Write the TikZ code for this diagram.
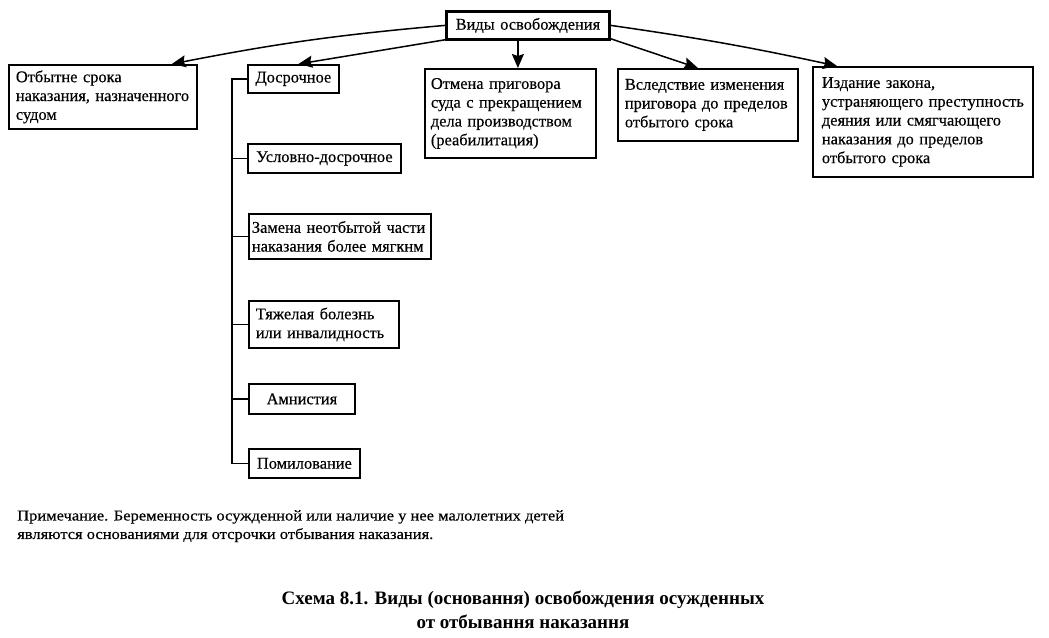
\documentclass[tikz,border=0pt]{standalone}
\usepackage{fontspec}
\setmainfont{Liberation Serif}
\newfontfamily\scanfont[FakeBold=0.35]{Liberation Serif}
\usetikzlibrary{arrows.meta,calc}
\newcommand{\bxfont}{\scanfont\fontsize{16.4}{18.8}\selectfont}
\begin{document}
\begin{tikzpicture}[x=1pt,y=1pt,
  box/.style={draw, line width=1.8pt, inner xsep=6pt, inner ysep=4pt, anchor=north west, font=\bxfont, align=left},
  arr/.style={line width=1.5pt, -{Stealth[length=14pt,width=12pt,inset=2pt]}},
  link/.style={line width=1.8pt}]
\useasboundingbox (0,0) rectangle (1049,-637);
\node[box, line width=2.8pt, inner xsep=4pt, text width=155pt, minimum height=28pt, align=center] (root) at (445,-10) {Виды освобождения};
\node[box, inner xsep=7pt, text width=174pt, minimum height=64pt] (b1) at (8,-64) {Отбытне срока\\наказания, назначенного\\судом};
\node[box, inner xsep=3pt, text width=85pt, minimum height=28pt, align=center] (dos) at (247,-64) {Досрочное};
\node[box, inner xsep=3pt, text width=147pt, minimum height=29pt, align=center] (usl) at (247,-143) {Условно-досрочное};
\node[box, inner xsep=3pt, text width=176pt, minimum height=45pt] (zam) at (248,-213) {Замена неотбытой части\\наказания более мягкнм};
\node[box, inner xsep=4pt, text width=142pt, minimum height=47pt] (tya) at (248,-300) {\hspace*{3pt}Тяжелая болезнь\\\hspace*{3pt}или инвалидность};
\node[box, inner xsep=3pt, text width=100pt, minimum height=30pt, align=center] (amn) at (248,-383) {Амнистия};
\node[box, inner xsep=3pt, text width=105pt, minimum height=29pt, align=center] (pom) at (248,-448) {Помилование};
\node[box, inner xsep=6pt, text width=159pt, minimum height=89pt] (otm) at (424,-68) {Отмена приговора\\суда с прекращением\\дела производством\\(реабилитация)};
\node[box, inner xsep=7pt, text width=166pt, minimum height=72pt] (vsl) at (617,-68) {Вследствие изменения\\приговора до пределов\\отбытого срока};
\node[box, inner xsep=9pt, text width=202pt, minimum height=110pt] (izd) at (812,-66) {Издание закона,\\устраняющего преступность\\деяния или смягчающего\\наказания до пределов\\отбытого срока};

\draw[arr] (root.west) to[bend right=3] ([xshift=-26pt]b1.north east);
\draw[arr] ([yshift=1pt]root.south west) -- ([xshift=5pt]dos.north);
\draw[arr] ([xshift=-10pt]root.south) -- ([xshift=-10pt]root.south |- otm.north);
\draw[arr] ([yshift=2pt]root.south east) -- ([xshift=-10pt]vsl.north);
\draw[arr] (root.east) to[bend left=2] ([xshift=25pt]izd.north west);

\draw[link] (dos.west) -- ++(-15,0) |- (pom.west);
\draw[link] (usl.west) -- ++(-15,0);
\draw[link] (zam.west) -- ++(-16,0);
\draw[link] (tya.west) -- ++(-16,0);
\draw[link] (amn.west) -- ++(-16,0);

\node[anchor=north west, align=left, xscale=1.1, transform shape, font=\scanfont\fontsize{15}{18.5}\selectfont, inner sep=0pt] (note) at (17,-510) {Примечание. Беременность осужденной или наличие у нее малолетних детей\\являются основаниями для отсрочки отбывания наказания.};
\node[align=center, font=\fontsize{19}{24}\selectfont\bfseries, inner sep=0pt] (cap) at (523,-610) {Схема 8.1. Виды (основання) освобождения осужденных\\от отбывання наказання};
\end{tikzpicture}
\end{document}
